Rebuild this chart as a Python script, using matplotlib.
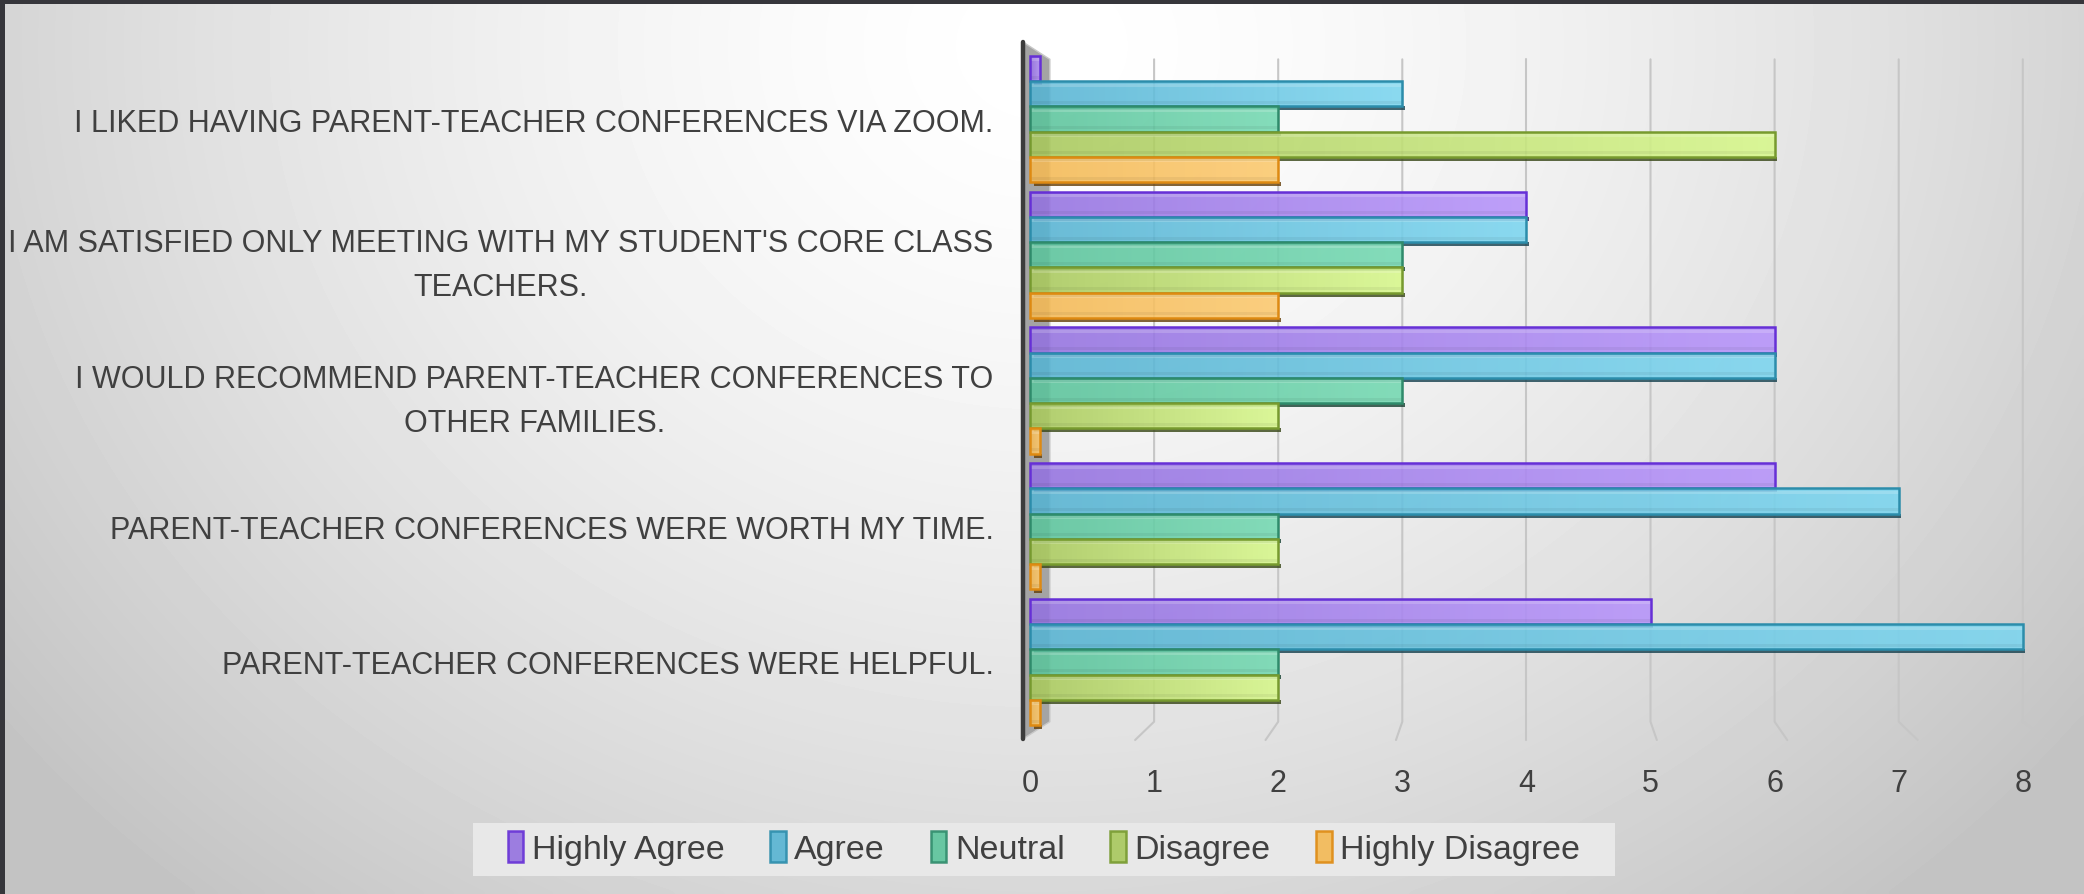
import numpy as np
import matplotlib.pyplot as plt
from matplotlib.patches import Rectangle, Polygon, Patch
from matplotlib.colors import LinearSegmentedColormap, to_rgb

questions = [
    "I LIKED HAVING PARENT-TEACHER CONFERENCES VIA ZOOM.",
    "I AM SATISFIED ONLY MEETING WITH MY STUDENT'S CORE CLASS\nTEACHERS.",
    "I WOULD RECOMMEND PARENT-TEACHER CONFERENCES TO\nOTHER FAMILIES.",
    "PARENT-TEACHER CONFERENCES WERE WORTH MY TIME.",
    "PARENT-TEACHER CONFERENCES WERE HELPFUL.",
]
series = ["Highly Agree", "Agree", "Neutral", "Disagree", "Highly Disagree"]
highly_agree = [0, 4, 6, 6, 5]
agree = [3, 4, 6, 7, 8]
neutral = [2, 3, 3, 2, 2]
disagree = [6, 3, 2, 2, 2]
highly_disagree = [2, 2, 0, 0, 0]
values = [highly_agree, agree, neutral, disagree, highly_disagree]
x_ticks = [0, 1, 2, 3, 4, 5, 6, 7, 8]

col_left = ["#9472e0", "#56b3d2", "#5ac39b", "#a8c85c", "#f4b954"]
col_right = ["#b794fb", "#7cd6f0", "#74d9b2", "#d8f88c", "#fcc96e"]
col_edge = ["#6630d6", "#2c8dab", "#2f8b6b", "#779a2f", "#de8a12"]

TEXT = "#404040"
FONT = ["Liberation Sans", "DejaVu Sans"]

W, H = 2084, 895
fig = plt.figure(figsize=(W / 100, H / 100), dpi=100)

# background: soft radial light
bg = fig.add_axes([0, 0, 1, 1], zorder=-10)
gx, gy = np.meshgrid(np.linspace(0, 1, 420), np.linspace(0, 1, 180))
t = np.sqrt(((gx - 0.5) / 0.55) ** 2 + ((gy - 0.95) / 1.1) ** 2)
shade = 1 - 0.19 * np.clip(t, 0, 1.15) ** 1.5
bg.imshow(shade, cmap="gray", vmin=0, vmax=1, origin="lower",
          extent=(0, 1, 0, 1), aspect="auto", interpolation="bicubic")
bg.set_xlim(0, 1)
bg.set_ylim(0, 1)
bg.axis("off")

# slide frame edges
fig.patches.append(Rectangle((0, 1 - 5 / H), 1, 5 / H, transform=fig.transFigure,
                             facecolor="#36363b", edgecolor="none", zorder=5))
fig.patches.append(Rectangle((0, 0), 5 / W, 1, transform=fig.transFigure,
                             facecolor="#36363b", edgecolor="none", zorder=5))

x_lo, x_hi = -0.25, 8.3
y_lo, y_hi = 4.6, -0.6
px_unit = 124.1
left_px = 1030 + x_lo * px_unit
right_px = 1030 + x_hi * px_unit
ax = fig.add_axes([left_px / W, 1 - 744.4 / H, (right_px - left_px) / W, (744.4 - 38.6) / H])
ax.patch.set_alpha(0)
for s in ax.spines.values():
    s.set_visible(False)

# gridlines with perspective tails
g_top, g_bot, g_tail = -0.44, 4.44, 4.575
for k in x_ticks[1:]:
    ax.plot([k, k, k + (k - 4) * 0.051], [g_top, g_bot, g_tail],
            color="#c6c6c6", lw=1.5, zorder=1, solid_capstyle="round")

# left wall
ax.add_patch(Polygon([(-0.056, -0.567), (0.16, -0.44), (0.16, 4.44), (-0.056, 4.567)],
                     closed=True, facecolor="#a4a4a4", edgecolor="#c8c8c8", lw=1, zorder=2))
ax.plot([-0.056, -0.056], [-0.567, 4.567], color="#3c3c3c", lw=3.2, zorder=3,
        solid_capstyle="round")


def darken(c, f=0.45):
    r, g, b = to_rgb(c)
    return (r * f, g * f, b * f)


def draw_bar(yc, h, val, i):
    z = 4 + i * 2
    width = val if val > 0 else 0.08
    y0 = yc - h / 2
    # visible underside of the 3D bar
    ax.add_patch(Rectangle((0.03, y0 + h), width - 0.01, h * 0.16, facecolor=darken(col_edge[i]),
                           edgecolor="none", alpha=0.8, zorder=z - 0.5))
    cmap = LinearSegmentedColormap.from_list("b%d" % i, [col_left[i], col_right[i]])
    grad = np.linspace(0, 1, 256)[None, :]
    im = ax.imshow(grad, cmap=cmap, extent=(0, width, y0 + h, y0), aspect="auto",
                   alpha=0.88, zorder=z, interpolation="bilinear")
    rect = Rectangle((0, y0), width, h, facecolor="none", edgecolor=col_edge[i],
                     lw=1.8, zorder=z + 0.3)
    ax.add_patch(rect)
    im.set_clip_path(rect)
    ax.add_patch(Rectangle((0, y0 + h * 0.1), width, h * 0.12, facecolor="white",
                           edgecolor="none", alpha=0.18, zorder=z + 0.1))
    ax.add_patch(Rectangle((0, y0 + h * 0.78), width, h * 0.12, facecolor="black",
                           edgecolor="none", alpha=0.05, zorder=z + 0.1))


bar_h = 0.186
for q in range(len(questions)):
    for i in range(len(series)):
        draw_bar(q + (i - 2) * bar_h, bar_h, values[i][q], i)

ax.set_xlim(x_lo, x_hi)
ax.set_ylim(y_lo, y_hi)
ax.set_xticks(x_ticks)
ax.set_xticklabels([str(v) for v in x_ticks], family=FONT, fontsize=22, color=TEXT)
ax.set_yticks(range(len(questions)))
ax.set_yticklabels(questions, family=FONT, fontsize=22, color=TEXT,
                   multialignment="center", linespacing=1.6)
ax.tick_params(axis="x", length=0, pad=18)
ax.tick_params(axis="y", length=0, pad=4)

# legend
fig.patches.append(Rectangle((473 / W, 1 - 877 / H), (1615 - 473) / W, 53 / H,
                             transform=fig.transFigure, facecolor="#e8e8e8",
                             edgecolor="none", zorder=0))
handles = [Patch(facecolor=col_left[i], edgecolor=col_edge[i], lw=1.8, alpha=0.9)
           for i in range(len(series))]
leg = fig.legend(handles, series, loc="center", bbox_to_anchor=(0.501, 0.051), ncol=5,
                 frameon=False, prop={"family": FONT, "size": 24.5},
                 handlelength=0.45, handleheight=1.0, handletextpad=0.25,
                 columnspacing=1.35, labelcolor=TEXT)

fig.savefig("out.png", dpi=100)
